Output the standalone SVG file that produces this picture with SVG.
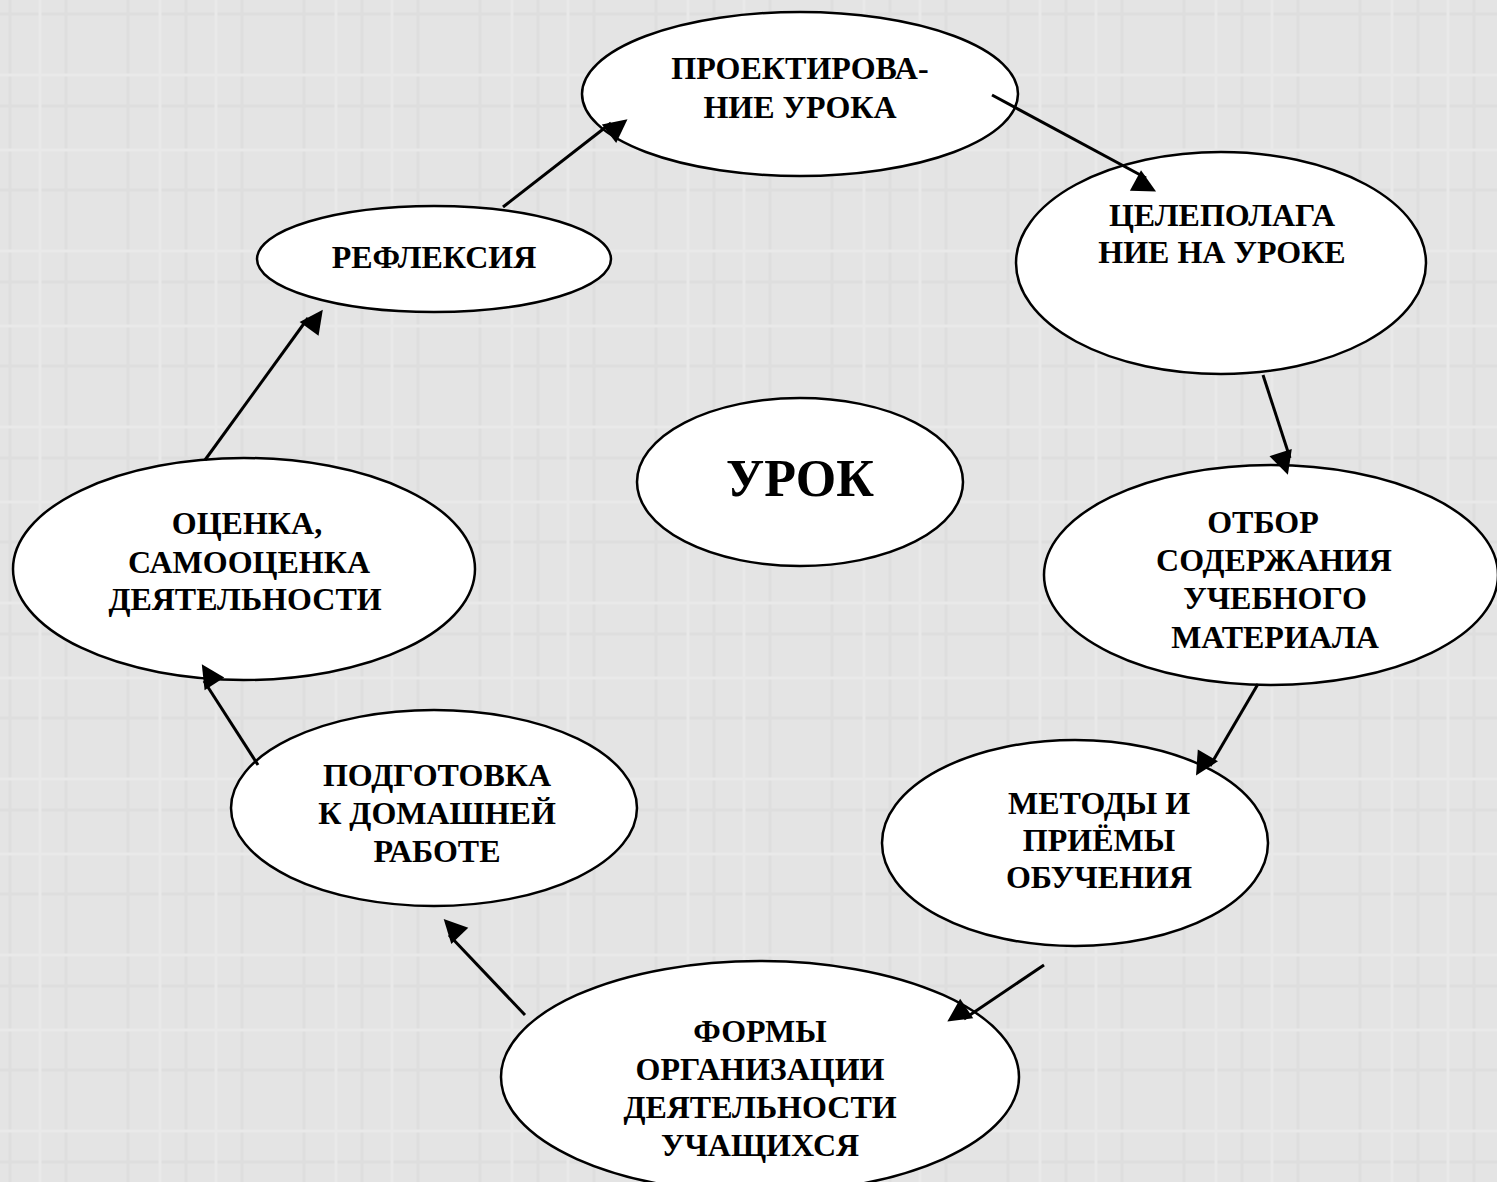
<svg xmlns="http://www.w3.org/2000/svg" width="1497" height="1182" viewBox="0 0 1497 1182">
<defs>
<style>
.n ellipse{fill:#fff;stroke:#000;stroke-width:2.5}
.n text{font-family:"Liberation Serif","Times New Roman",serif;font-weight:bold;font-size:32px;text-anchor:middle;dominant-baseline:central;fill:#000}
.c line{stroke:#000;stroke-width:3;marker-end:url(#ah)}
</style>
<marker id="ah" viewBox="0 0 10 10" refX="9" refY="5" markerWidth="9" markerHeight="9" markerUnits="userSpaceOnUse" orient="auto" style="overflow:visible">
<path d="M0,0 L10,5 L0,10 z" fill="#000" transform="scale(2.6)"/>
</marker>
<pattern id="bg" width="176" height="176" patternUnits="userSpaceOnUse">
<rect width="176" height="176" fill="#e4e4e4"/>
<g stroke="#dedede" stroke-width="3">
<line x1="10" y1="0" x2="10" y2="176"/><line x1="66" y1="0" x2="66" y2="176"/><line x1="128" y1="0" x2="128" y2="176"/>
<line x1="0" y1="14" x2="176" y2="14"/><line x1="0" y1="106" x2="176" y2="106"/>
</g>
<g stroke="#e9e9e9" stroke-width="3">
<line x1="40" y1="0" x2="40" y2="176"/><line x1="160" y1="0" x2="160" y2="176"/>
<line x1="0" y1="75" x2="176" y2="75"/><line x1="0" y1="150" x2="176" y2="150"/>
</g>
</pattern>
</defs>
<rect width="1497" height="1182" fill="url(#bg)"/>
<g id="n1" class="n"><ellipse cx="800" cy="94" rx="218" ry="82"/><text x="800" y="68">ПРОЕКТИРОВА-</text><text x="800" y="107">НИЕ УРОКА</text></g>
<g id="n2" class="n"><ellipse cx="1221" cy="263" rx="205" ry="111"/><text x="1222" y="215">ЦЕЛЕПОЛАГА</text><text x="1222" y="252">НИЕ НА УРОКЕ</text></g>
<g id="n3" class="n"><ellipse cx="434" cy="259" rx="177" ry="53"/><text x="434" y="257">РЕФЛЕКСИЯ</text></g>
<g id="n4" class="n"><ellipse cx="800" cy="482" rx="163" ry="84"/><text x="800" y="478" style="font-size:52px">УРОК</text></g>
<g id="n5" class="n"><ellipse cx="244" cy="569" rx="231" ry="111"/><text x="247" y="523">ОЦЕНКА,</text><text x="249" y="562">САМООЦЕНКА</text><text x="245" y="599">ДЕЯТЕЛЬНОСТИ</text></g>
<g id="n6" class="n"><ellipse cx="1271" cy="575" rx="227" ry="110"/><text x="1263" y="522">ОТБОР</text><text x="1274" y="560">СОДЕРЖАНИЯ</text><text x="1275" y="598">УЧЕБНОГО</text><text x="1275" y="637">МАТЕРИАЛА</text></g>
<g id="n7" class="n"><ellipse cx="434" cy="808" rx="203" ry="98"/><text x="437" y="775">ПОДГОТОВКА</text><text x="437" y="813">К ДОМАШНЕЙ</text><text x="437" y="851">РАБОТЕ</text></g>
<g id="n8" class="n"><ellipse cx="1075" cy="843" rx="193" ry="103"/><text x="1099" y="803">МЕТОДЫ И</text><text x="1099" y="840">ПРИЁМЫ</text><text x="1099" y="877">ОБУЧЕНИЯ</text></g>
<g id="n9" class="n"><ellipse cx="760" cy="1077" rx="259" ry="116"/><text x="760" y="1031">ФОРМЫ</text><text x="760" y="1069">ОРГАНИЗАЦИИ</text><text x="760" y="1107">ДЕЯТЕЛЬНОСТИ</text><text x="760" y="1145">УЧАЩИХСЯ</text></g>
<g class="c">
<line x1="503" y1="207" x2="611" y2="123"/>
<line x1="992" y1="95" x2="1146" y2="178"/>
<line x1="1263" y1="375" x2="1290" y2="458"/>
<line x1="1258" y1="684" x2="1210" y2="766"/>
<line x1="1044" y1="965" x2="964" y2="1019"/>
<line x1="525" y1="1015" x2="449" y2="935"/>
<line x1="258" y1="765" x2="204" y2="681"/>
<line x1="205" y1="460" x2="308" y2="318"/>
</g>
</svg>
